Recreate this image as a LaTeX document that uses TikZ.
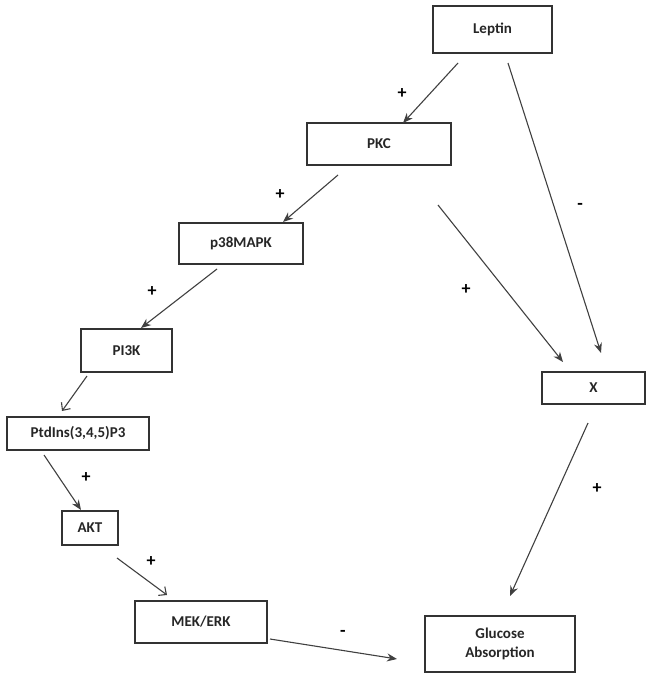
\documentclass[tikz,border=0pt]{standalone}
\usepackage{fontspec}
\setmainfont{Carlito}
\usetikzlibrary{arrows.meta}
\begin{document}
\begin{tikzpicture}[x=1pt,y=-1pt,
  box/.style={draw=black!80,line width=1.2pt,inner sep=0pt,font=\bfseries\fontsize{15}{19}\selectfont,align=center,text=black!85},
  conn/.style={draw=black!75,line width=1.1pt,-{Stealth[length=10pt,width=8pt]}},
  openconn/.style={draw=black!75,line width=1.1pt,-{Straight Barb[length=6pt,width=11pt]}},
  sign/.style={font=\bfseries\fontsize{18}{18}\selectfont,inner sep=0pt}]
\useasboundingbox (0,0) rectangle (653,680);
% boxes (centre, width, height)
\node[box,minimum width=119pt,minimum height=47pt] (leptin) at (492.5,29.5) {Leptin};
\node[box,minimum width=144pt,minimum height=42pt] (pkc) at (379,144) {PKC};
\node[box,minimum width=124pt,minimum height=41pt] (p38) at (241,243.5) {p38MAPK};
\node[box,minimum width=91pt,minimum height=43pt] (pi3k) at (126.5,350.5) {PI3K};
\node[box,minimum width=142pt,minimum height=33pt] (ptd) at (78,433.5) {PtdIns(3,4,5)P3};
\node[box,minimum width=56pt,minimum height=34pt] (akt) at (90,528) {AKT};
\node[box,minimum width=132pt,minimum height=42pt] (mek) at (201,622) {MEK/ERK};
\node[box,minimum width=103pt,minimum height=32pt] (x) at (593.5,388) {X};
\node[box,minimum width=150pt,minimum height=56pt] (glu) at (500,644) {Glucose\\Absorption};
% connector end points
\coordinate (l1) at (458,63);   \coordinate (k1) at (403,123);
\coordinate (l2) at (508,63);   \coordinate (x1) at (601,353);
\coordinate (k2) at (438,205);  \coordinate (x2) at (563,362);
\coordinate (k3) at (338,175);  \coordinate (p1) at (283,222);
\coordinate (p2) at (217,269);  \coordinate (i1) at (141,328);
\coordinate (i2) at (87,376);   \coordinate (t1) at (62,411);
\coordinate (t2) at (44,455);   \coordinate (a1) at (81,510);
\coordinate (a2) at (117,558);  \coordinate (m1) at (167,595);
\coordinate (m2) at (270,639);  \coordinate (g1) at (397,659);
\coordinate (x3) at (588,423);  \coordinate (g2) at (510,596);
% connectors
\draw[conn] (l1) -- (k1);
\draw[conn] (l2) -- (x1);
\draw[conn] (k2) -- (x2);
\draw[conn] (k3) -- (p1);
\draw[conn] (p2) -- (i1);
\draw[openconn] (i2) -- (t1);
\draw[conn] (t2) -- (a1);
\draw[openconn] (a2) -- (m1);
\draw[conn] (m2) -- (g1);
\draw[conn] (x3) -- (g2);
% signs
\node[sign] (s1) at (402,94) {+};
\node[sign] (s2) at (580,206) {-};
\node[sign] (s3) at (280,195) {+};
\node[sign] (s4) at (466,290) {+};
\node[sign] (s5) at (152,292) {+};
\node[sign] (s6) at (86,478) {+};
\node[sign] (s7) at (151,562) {+};
\node[sign] (s8) at (343,633) {-};
\node[sign] (s9) at (597,489) {+};
\end{tikzpicture}
\end{document}
